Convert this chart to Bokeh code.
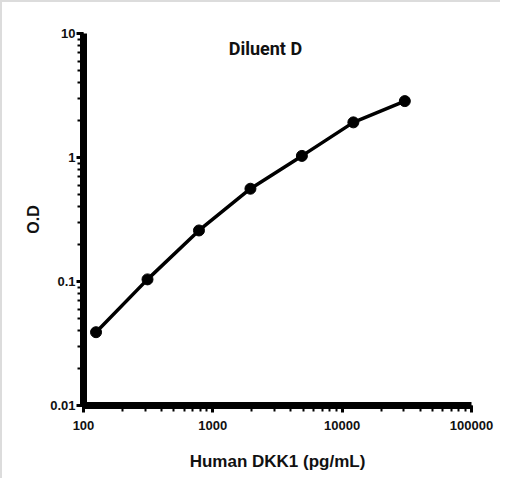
from bokeh.plotting import figure
from bokeh.models import Range1d, CustomJSTickFormatter, LogTicker, Label
from bokeh.embed import file_html
from bokeh.resources import INLINE

concentration = [125, 312.5, 781.25, 1953.1, 4882.8, 12207, 30518]
od = [0.039, 0.104, 0.258, 0.56, 1.03, 1.92, 2.85]
x_ticks = [100, 1000, 10000, 100000]
y_ticks = [0.01, 0.1, 1, 10]
title_text = "Diluent D"
x_label = "Human DKK1 (pg/mL)"
y_label = "O.D"

p = figure(width=500, height=478, x_axis_type="log", y_axis_type="log",
           output_backend="svg", toolbar_location=None,
           x_range=Range1d(100, 100000), y_range=Range1d(0.01, 10),
           min_border_left=83, min_border_right=29, min_border_top=33, min_border_bottom=73)
p.styles = {"box-shadow": "inset 2px 2px 0 0 #dcdcdc"}
p.border_fill_color = None
p.background_fill_color = "white"
p.outline_line_color = None
p.xgrid.visible = False
p.ygrid.visible = False

fmt = CustomJSTickFormatter(code="return tick.toString();")
p.xaxis.ticker = LogTicker(desired_num_ticks=4, num_minor_ticks=10)
p.yaxis.ticker = LogTicker(desired_num_ticks=4, num_minor_ticks=10)
p.xaxis.formatter = fmt
p.yaxis.formatter = fmt

for ax in (p.xaxis, p.yaxis):
    ax.axis_line_width = 7
    ax.axis_line_color = "black"
    ax.major_tick_line_width = 3
    ax.major_tick_in = 0
    ax.major_tick_out = 7
    ax.minor_tick_line_width = 2
    ax.minor_tick_in = 0
    ax.minor_tick_out = 6
    ax.major_label_text_font = "Liberation Sans"
    ax.major_label_text_font_style = "bold"
    ax.major_label_text_font_size = "13px"
    ax.major_label_text_color = "#111111"
    ax.axis_label_text_font = "Liberation Sans"
    ax.axis_label_text_font_style = "bold"
    ax.axis_label_text_color = "#111111"

p.xaxis.axis_label = x_label
p.xaxis.axis_label_text_font_size = "17px"
p.xaxis.major_label_standoff = 8
p.xaxis.axis_label_standoff = 19
p.yaxis.axis_label = y_label
p.yaxis.axis_label_text_font_size = "16px"
p.yaxis.major_label_standoff = 1
p.yaxis.axis_label_standoff = 5

p.line(concentration, od, line_width=3.5, color="black")
p.scatter(concentration, od, size=11, color="black")

p.add_layout(Label(x=2550, y=7.5, text=title_text, text_align="center",
                   text_baseline="middle", text_font="Roboto",
                   text_font_size="18px", text_font_style="bold", text_color="#111111"))

open("out.html", "w").write(file_html(p, INLINE))
